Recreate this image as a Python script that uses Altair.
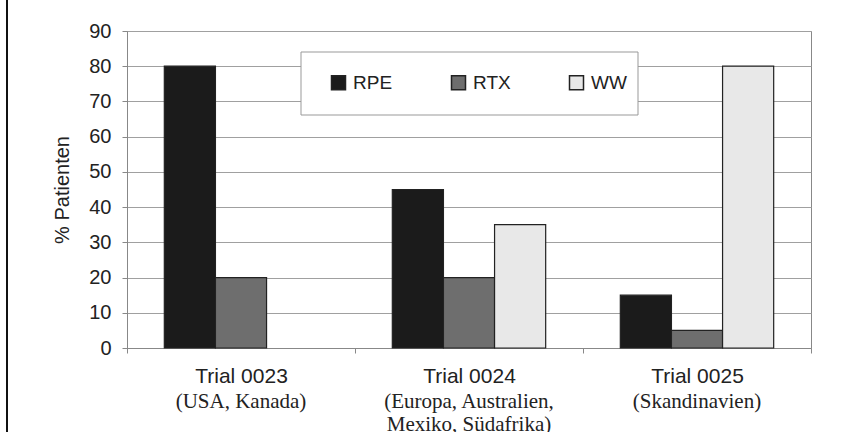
import altair as alt
import pandas as pd

# Patients per treatment arm in three trials (percent)
trials = ["Trial 0023", "Trial 0024", "Trial 0025"]
regions = ["(USA, Kanada)", "(Europa, Australien,\nMexiko, Südafrika)", "(Skandinavien)"]
groups = ["RPE", "RTX", "WW"]
rpe = [80, 45, 15]
rtx = [20, 20, 5]
ww = [0, 35, 80]

colors = ["#1b1b1b", "#6e6e6e", "#e8e8e8"]

rows = []
for i, t in enumerate(trials):
    for g, vals in zip(groups, [rpe, rtx, ww]):
        if vals[i] > 0:
            rows.append({"trial": t, "arm": g, "pct": vals[i]})
bars_df = pd.DataFrame(rows)
region_df = pd.DataFrame({"trial": trials, "region": regions})

PLOT_W, PLOT_H = 684, 317
SANS = "Liberation Sans"
SERIF = "Liberation Serif"

x_enc = alt.X(
    "trial:N",
    sort=trials,
    scale=alt.Scale(paddingInner=0, paddingOuter=0),
    axis=alt.Axis(
        title=None, labelAngle=0, labelFont=SANS, labelFontSize=21,
        labelColor="#222", labelPadding=12, tickBand="extent", tickSize=5,
        tickColor="#888", domainColor="#888", grid=False,
    ),
)

bars = alt.Chart(bars_df).mark_bar(stroke="#222", strokeWidth=1.2).encode(
    x=x_enc,
    xOffset=alt.XOffset(
        "arm:N", sort=groups,
        scale=alt.Scale(domain=groups, paddingInner=0, paddingOuter=0.73),
    ),
    y=alt.Y(
        "pct:Q",
        scale=alt.Scale(domain=[0, 90]),
        axis=alt.Axis(
            title="% Patienten", values=list(range(0, 91, 10)),
            labelFont=SANS, labelFontSize=20, labelColor="#222", labelPadding=11,
            titleFont=SANS, titleFontSize=20, titleFontWeight="normal",
            titleColor="#222", titlePadding=16,
            tickSize=5, tickColor="#888", domainColor="#888",
            gridColor="#a0a0a0", gridWidth=1,
        ),
    ),
    color=alt.Color(
        "arm:N",
        scale=alt.Scale(domain=groups, range=colors),
        legend=alt.Legend(
            title=None, orient="none", direction="horizontal",
            legendX=202, legendY=42, padding=0,
            symbolType="square", symbolSize=196, symbolStrokeColor="#222",
            symbolStrokeWidth=1.5, symbolOpacity=1,
            labelFont=SANS, labelFontSize=19, labelColor="#222",
            labelOffset=5, columnPadding=55,
        ),
    ),
)

one = pd.DataFrame({"k": [0]})

# White frame behind the legend entries
legend_box = alt.Chart(one).mark_rect(
    fill="white", stroke="#999", strokeWidth=1
).encode(
    x=alt.value(174), x2=alt.value(511), y=alt.value(21), y2=alt.value(84)
)

# Region names under each trial label
region_text = alt.Chart(region_df).mark_text(
    font=SERIF, fontSize=21, color="#222", align="center",
    baseline="alphabetic", lineBreak="\n", lineHeight=23,
).encode(
    x=alt.X("trial:N", sort=trials),
    y=alt.value(377),
    text="region:N",
)

# Page frame line on the left
frame = alt.Chart(one).mark_rule(color="#111", strokeWidth=2).encode(
    x=alt.value(-120), y=alt.value(-31), y2=alt.value(401)
)

chart = alt.layer(legend_box, bars, region_text, frame).properties(
    width=PLOT_W, height=PLOT_H,
    autosize=alt.AutoSizeParams(type="none"),
    padding={"left": 127, "top": 31, "right": 41, "bottom": 84},
    background="white",
).configure_view(stroke="#888", strokeWidth=1)

chart.save("out.html", embed_options={"renderer": "svg", "actions": False})
